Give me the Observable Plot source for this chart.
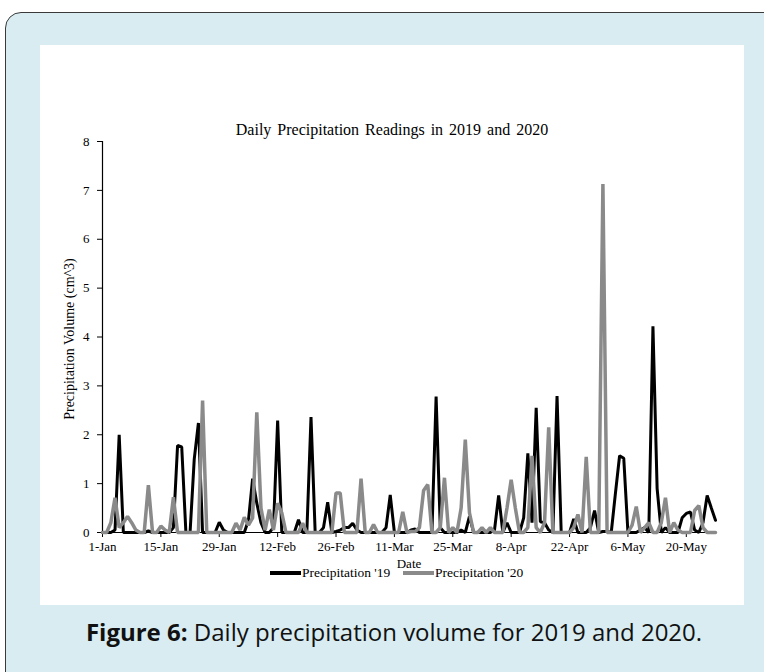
<!DOCTYPE html>
<html><head><meta charset="utf-8">
<script src="https://cdn.jsdelivr.net/npm/d3@7"></script>
<script src="https://cdn.jsdelivr.net/npm/@observablehq/plot@0.6"></script>
<style>
html,body{margin:0;padding:0}
body{width:764px;height:672px;overflow:hidden;position:relative;background:#fff;font-family:"Liberation Serif",serif}
#frame{position:absolute;left:5px;top:12px;width:800px;height:720px;border:1.5px solid #3a3a3a;border-radius:16px;background:#d8ecf1;box-sizing:border-box}
#panel{position:absolute;left:40px;top:45px;width:704px;height:560px;background:#fff}
#title{position:absolute;left:40px;width:704px;top:120px;text-align:center;font-size:16px;line-height:19px;word-spacing:2px;color:#000}
#ylabel{position:absolute;left:70px;top:339px;transform:translate(-50%,-50%) rotate(-90deg);white-space:nowrap;font-size:14px;color:#000}
#chart{position:absolute;left:40px;top:120px}
.leg{position:absolute;top:565px;font-size:13.5px;line-height:16px;white-space:nowrap}
.sw{position:absolute;height:4px;top:571px}
#caption{position:absolute;left:0;width:788px;top:616px;text-align:center;font-family:"Open Sans",sans-serif;font-size:24px;line-height:32px;color:#111}
</style></head>
<body>
<div id="frame"></div>
<div id="panel"></div>
<div id="title">Daily Precipitation Readings in 2019 and 2020</div>
<div id="chart"></div>
<div id="ylabel">Precipitation Volume (cm^3)</div>
<div class="sw" style="left:270px;width:31px;background:#000"></div>
<div class="leg" style="left:302px">Precipitation '19</div>
<div class="sw" style="left:403px;width:31px;background:#8a8a8a"></div>
<div class="leg" style="left:435px">Precipitation '20</div>
<div id="caption"><b>Figure 6:</b> Daily precipitation volume for 2019 and 2020.</div>
<script>
const series = ["Precipitation '19", "Precipitation '20"];
const rain2019 = [
0,0,0,0.05,2.0,0,0,0,0,0,
0,0.03,0,0,0,0,0,0.1,1.78,1.75,
0,0,1.5,2.24,0,0,0,0,0.21,0.05,
0,0,0,0,0,0.25,1.1,0.6,0.2,0,
0,0.1,2.29,0,0,0,0,0.26,0,0,
2.36,0,0,0.1,0.62,0,0.02,0.05,0.1,0.1,
0.19,0.05,0,0,0,0,0,0,0.1,0.77,
0,0,0,0,0.05,0.07,0,0,0,0,
2.78,0.1,0,0,0,0,0.05,0,0.33,0,
0,0,0,0,0.05,0.76,0,0.2,0,0,
0,0.3,1.62,0.2,2.55,0.22,0.2,0.05,0,2.79,
0,0,0,0.28,0,0,0,0.1,0.45,0,
0.02,0.02,0,0.8,1.57,1.52,0,0,0,0.05,
0.1,0,4.22,0.9,0,0.1,0,0,0,0.3,
0.39,0.42,0.05,0,0.2,0.76,0.5,0.25];
const rain2020 = [
0,0,0.2,0.71,0.1,0.2,0.33,0.2,0.05,0,
0,0.97,0,0,0.13,0.05,0,0.72,0,0,
0,0,0,0,2.70,0,0,0,0,0,
0,0,0.19,0.05,0.31,0.15,0.3,2.46,0.5,0.05,
0.47,0.05,0.6,0.4,0,0,0,0,0.19,0,
0,0,0,0,0,0,0.81,0.81,0,0,
0,0,1.10,0,0,0.16,0,0,0,0,
0,0,0.42,0,0.02,0.02,0.1,0.86,0.98,0,
0,0.1,1.12,0,0.1,0,0.5,1.9,0.4,0,
0,0.1,0,0.1,0,0,0,0.5,1.08,0.5,
0,0,0.1,1.57,0.1,0,0.2,2.15,0,0,
0,0,0,0.1,0.37,0,1.55,0,0,0,
7.13,0,0,0,0,0,0,0.15,0.53,0,
0.1,0.2,0,0,0.2,0.71,0,0.2,0.05,0,
0,0,0.45,0.55,0.1,0,0,0];
const tickDays = [0,14,28,42,56,70,84,98,112,126,140];
const tickLabels = ["1-Jan","15-Jan","29-Jan","12-Feb","26-Feb","11-Mar","25-Mar","8-Apr","22-Apr","6-May","20-May"];
const yTicks = [0,1,2,3,4,5,6,7,8];
const colors = ["#000000","#8a8a8a"];

const rows19 = rain2019.map((v,i)=>({day:i, value:v}));
const rows20 = rain2020.map((v,i)=>({day:i, value:v}));
const labelOf = new Map(tickDays.map((d,i)=>[d,tickLabels[i]]));

const chart = Plot.plot({
  width: 704,
  height: 455,
  marginLeft: 62,
  marginRight: 29,
  marginTop: 21,
  marginBottom: 43,
  style: {fontFamily: "Liberation Serif, serif", fontSize: "13px", background: "transparent", color: "#000"},
  x: {domain: [0, rain2019.length - 1]},
  y: {domain: [0, 8]},
  marks: [
    Plot.axisY({ticks: yTicks, tickSize: 5, tickPadding: 8, label: null, fontSize: 13}),
    Plot.axisX({ticks: tickDays, tickFormat: d => labelOf.get(d), tickSize: 5, tickPadding: 4, fontSize: 13,
      label: "Date", labelAnchor: "center", labelArrow: "none", labelOffset: 35}),
    Plot.ruleX([0], {y1: 0, y2: 8, stroke: "#000", strokeWidth: 1.2}),
    Plot.ruleY([0], {stroke: "#000", strokeWidth: 1.2}),
    Plot.lineY(rows19, {x: "day", y: "value", stroke: colors[0], strokeWidth: 3, strokeLinejoin: "miter"}),
    Plot.lineY(rows20, {x: "day", y: "value", stroke: colors[1], strokeWidth: 3.5, strokeLinejoin: "miter"})
  ]
});
document.getElementById("chart").appendChild(chart);
</script>
</body></html>
